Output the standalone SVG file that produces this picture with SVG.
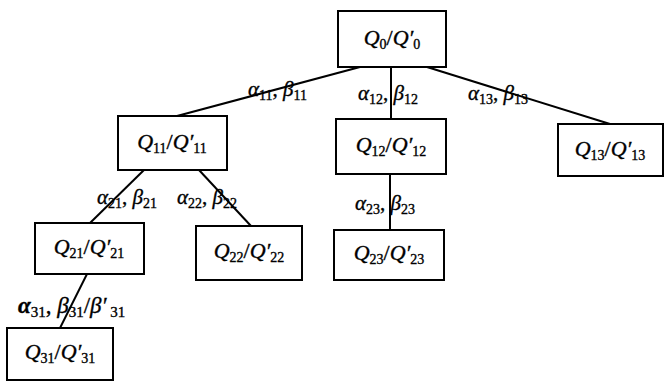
<svg xmlns="http://www.w3.org/2000/svg" width="665" height="389" viewBox="0 0 665 389">
<style>
.box{fill:#fff;stroke:#000;stroke-width:2}
.edge{stroke:#000;stroke-width:2;fill:none}
text{font-family:"Liberation Serif","Times New Roman",serif;fill:#000;stroke:#000;stroke-width:0.35}
.nl{font-size:22px}
.el{font-size:21px}
.i{font-style:italic}
.s{font-size:14px}
.b{font-weight:bold}
</style>
<rect width="665" height="389" fill="#fff"/>
<g id="connectors">
<line class="edge" x1="360" y1="67" x2="177" y2="116"/>
<line class="edge" x1="391" y1="67" x2="391" y2="119"/>
<line class="edge" x1="427" y1="67" x2="610" y2="124"/>
<line class="edge" x1="144" y1="170" x2="90" y2="223"/>
<line class="edge" x1="199" y1="170" x2="251" y2="226"/>
<line class="edge" x1="390" y1="174" x2="390" y2="230"/>
<line class="edge" x1="87" y1="274" x2="60" y2="328"/>
<text class="el" x="248" y="96"><tspan class="i">α</tspan><tspan class="s" dy="4">11</tspan><tspan dy="-4">, </tspan><tspan class="i">β</tspan><tspan class="s" dy="4">11</tspan></text>
<text class="el" x="358" y="100"><tspan class="i">α</tspan><tspan class="s" dy="4">12</tspan><tspan dy="-4">, </tspan><tspan class="i">β</tspan><tspan class="s" dy="4">12</tspan></text>
<text class="el" x="468" y="100"><tspan class="i">α</tspan><tspan class="s" dy="4">13</tspan><tspan dy="-4">, </tspan><tspan class="i">β</tspan><tspan class="s" dy="4">13</tspan></text>
<text class="el" x="97" y="204"><tspan class="i">α</tspan><tspan class="s" dy="4">21</tspan><tspan dy="-4">, </tspan><tspan class="i">β</tspan><tspan class="s" dy="4">21</tspan></text>
<text class="el" x="177" y="204"><tspan class="i">α</tspan><tspan class="s" dy="4">22</tspan><tspan dy="-4">, </tspan><tspan class="i">β</tspan><tspan class="s" dy="4">22</tspan></text>
<text class="el" x="355" y="210"><tspan class="i">α</tspan><tspan class="s" dy="4">23</tspan><tspan dy="-4">, </tspan><tspan class="i">β</tspan><tspan class="s" dy="4">23</tspan></text>
<text x="18" y="313" font-size="23px"><tspan class="i b">α</tspan><tspan font-size="15px" dy="4">31</tspan><tspan dy="-4">, </tspan><tspan class="i">β</tspan><tspan font-size="15px" dy="4">31</tspan><tspan dy="-4">/</tspan><tspan class="i">β′</tspan><tspan font-size="15px" dy="4"> 31</tspan></text>
</g>
<g id="Q0">
<rect class="box" x="338" y="11" width="108" height="56"/>
<text class="nl" x="392" y="45" text-anchor="middle"><tspan class="i">Q</tspan><tspan class="s" dy="4">0</tspan><tspan dy="-4">/</tspan><tspan class="i">Q′</tspan><tspan class="s" dy="4">0</tspan></text>
</g>
<g id="Q11">
<rect class="box" x="118" y="116" width="109" height="54"/>
<text class="nl" x="172" y="149" text-anchor="middle"><tspan class="i">Q</tspan><tspan class="s" dy="4">11</tspan><tspan dy="-4">/</tspan><tspan class="i">Q′</tspan><tspan class="s" dy="4">11</tspan></text>
</g>
<g id="Q12">
<rect class="box" x="336" y="119" width="110" height="55"/>
<text class="nl" x="391" y="152" text-anchor="middle"><tspan class="i">Q</tspan><tspan class="s" dy="4">12</tspan><tspan dy="-4">/</tspan><tspan class="i">Q′</tspan><tspan class="s" dy="4">12</tspan></text>
</g>
<g id="Q13">
<rect class="box" x="558" y="124" width="105" height="52"/>
<text class="nl" x="610" y="156" text-anchor="middle"><tspan class="i">Q</tspan><tspan class="s" dy="4">13</tspan><tspan dy="-4">/</tspan><tspan class="i">Q′</tspan><tspan class="s" dy="4">13</tspan></text>
</g>
<g id="Q21">
<rect class="box" x="35" y="223" width="109" height="51"/>
<text class="nl" x="89" y="254" text-anchor="middle"><tspan class="i">Q</tspan><tspan class="s" dy="4">21</tspan><tspan dy="-4">/</tspan><tspan class="i">Q′</tspan><tspan class="s" dy="4">21</tspan></text>
</g>
<g id="Q22">
<rect class="box" x="196" y="226" width="106" height="54"/>
<text class="nl" x="249" y="258" text-anchor="middle"><tspan class="i">Q</tspan><tspan class="s" dy="4">22</tspan><tspan dy="-4">/</tspan><tspan class="i">Q′</tspan><tspan class="s" dy="4">22</tspan></text>
</g>
<g id="Q23">
<rect class="box" x="334" y="230" width="110" height="50"/>
<text class="nl" x="389" y="260" text-anchor="middle"><tspan class="i">Q</tspan><tspan class="s" dy="4">23</tspan><tspan dy="-4">/</tspan><tspan class="i">Q′</tspan><tspan class="s" dy="4">23</tspan></text>
</g>
<g id="Q31">
<rect class="box" x="7" y="328" width="106" height="52"/>
<text class="nl" x="60" y="359" text-anchor="middle"><tspan class="i">Q</tspan><tspan class="s" dy="4">31</tspan><tspan dy="-4">/</tspan><tspan class="i">Q′</tspan><tspan class="s" dy="4">31</tspan></text>
</g>
</svg>
